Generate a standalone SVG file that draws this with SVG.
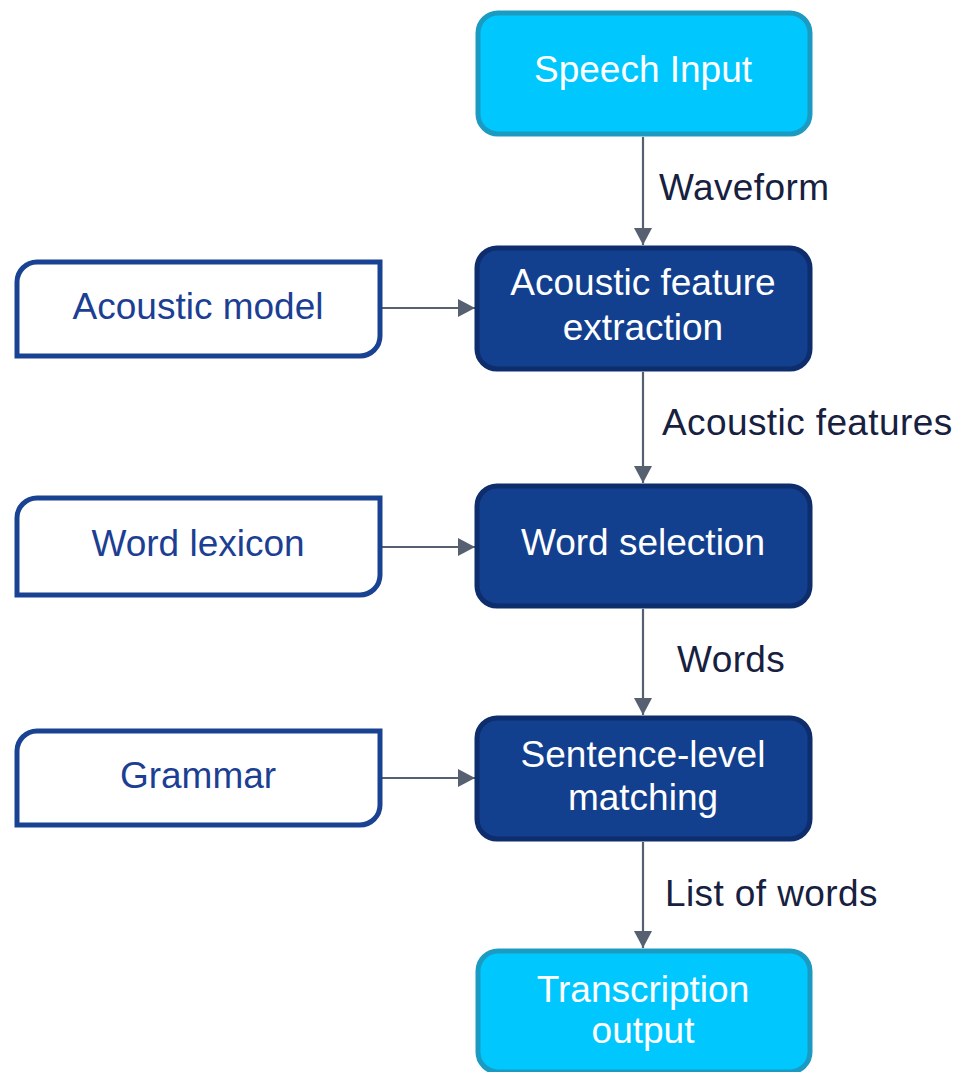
<svg xmlns="http://www.w3.org/2000/svg" width="959" height="1072" viewBox="0 0 959 1072">
<defs>
<marker id="ah" markerWidth="18" markerHeight="18" viewBox="0 0 18 18" refX="17" refY="9" orient="auto" markerUnits="userSpaceOnUse">
<path d="M0,0 L17,9 L0,18 Z" fill="#566070"/>
</marker>
<style>
.cyan{fill:#00c8ff;stroke:#1b9bc2;stroke-width:5}
.dark{fill:#133f8f;stroke:#0d2d6c;stroke-width:5}
.leaf{fill:#ffffff;stroke:#1a4292;stroke-width:5}
.tw{font-family:"Liberation Sans",Arial,sans-serif;font-size:37px;fill:#ffffff;text-anchor:middle}
.tb{font-family:"Liberation Sans",Arial,sans-serif;font-size:37px;fill:#1c3f94;text-anchor:middle}
.tl{font-family:"Liberation Sans",Arial,sans-serif;font-size:37px;fill:#17213f;letter-spacing:0.4px}
.conn{stroke:#566070;stroke-width:2.2;fill:none;marker-end:url(#ah)}
</style>
</defs>
<rect width="959" height="1072" fill="#ffffff"/>
<g id="connectors">
<line class="conn" x1="643" y1="137" x2="643" y2="245"/>
<line class="conn" x1="643" y1="372" x2="643" y2="483"/>
<line class="conn" x1="643" y1="609" x2="643" y2="715"/>
<line class="conn" x1="643" y1="842" x2="643" y2="948"/>
<line class="conn" x1="382" y1="308" x2="475" y2="308"/>
<line class="conn" x1="382" y1="547" x2="475" y2="547"/>
<line class="conn" x1="382" y1="778" x2="475" y2="778"/>
<text class="tl" x="659" y="200">Waveform</text>
<text class="tl" x="662" y="435">Acoustic features</text>
<text class="tl" x="677" y="672">Words</text>
<text class="tl" x="665" y="906">List of words</text>
</g>
<g id="speech-input">
<rect class="cyan" x="478" y="13" width="332" height="121" rx="20"/>
<text class="tw" x="643" y="82">Speech Input</text>
</g>
<g id="acoustic-feature-extraction">
<rect class="dark" x="477" y="248" width="333" height="121" rx="20"/>
<text class="tw" x="643" y="295">Acoustic feature</text>
<text class="tw" x="643" y="340">extraction</text>
</g>
<g id="word-selection">
<rect class="dark" x="477" y="486" width="333" height="120" rx="20"/>
<text class="tw" x="643" y="555">Word selection</text>
</g>
<g id="sentence-level-matching">
<rect class="dark" x="477" y="718" width="333" height="121" rx="20"/>
<text class="tw" x="643" y="767">Sentence-level</text>
<text class="tw" x="643" y="810">matching</text>
</g>
<g id="transcription-output">
<rect class="cyan" x="478" y="951" width="332" height="121" rx="20"/>
<text class="tw" x="643" y="1002">Transcription</text>
<text class="tw" x="643" y="1043">output</text>
</g>
<g id="acoustic-model">
<path class="leaf" d="M37,262 H380 V336 A20,20 0 0 1 360,356 H17 V282 A20,20 0 0 1 37,262 Z"/>
<text class="tb" x="198" y="319">Acoustic model</text>
</g>
<g id="word-lexicon">
<path class="leaf" d="M37,498 H380 V575 A20,20 0 0 1 360,595 H17 V518 A20,20 0 0 1 37,498 Z"/>
<text class="tb" x="198" y="556">Word lexicon</text>
</g>
<g id="grammar">
<path class="leaf" d="M37,731 H380 V805 A20,20 0 0 1 360,825 H17 V751 A20,20 0 0 1 37,731 Z"/>
<text class="tb" x="198" y="788">Grammar</text>
</g>
</svg>
